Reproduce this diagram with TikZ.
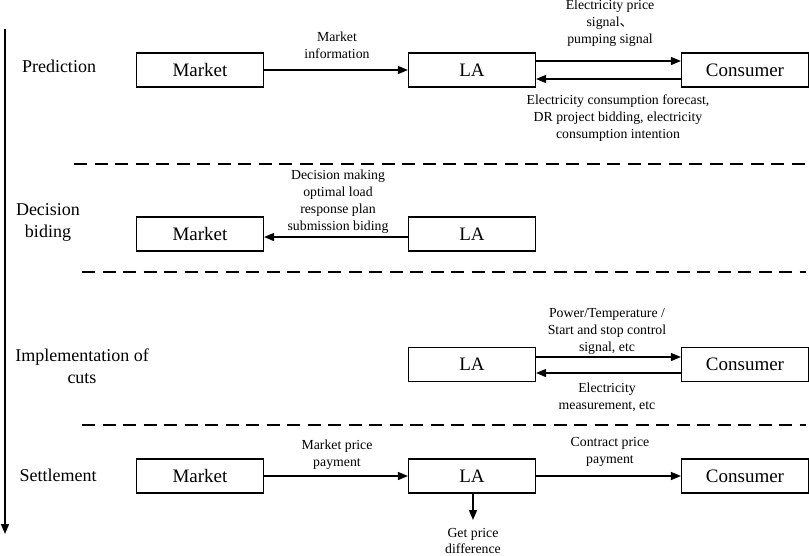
\documentclass[tikz,border=0pt]{standalone}
\usepackage{fontspec}
\setmainfont{Liberation Serif}
\newfontfamily\cjk{Noto Sans CJK SC}
\usetikzlibrary{arrows.meta}
\begin{document}
\begin{tikzpicture}[x=1pt,y=-1pt,
 box/.style={draw,line width=1.2pt,minimum width=127pt,minimum height=34pt,inner sep=0pt,font=\fontsize{19}{22}\selectfont},
 lab/.style={align=center,font=\fontsize{13.8}{17}\selectfont,inner sep=0pt},
 phase/.style={align=center,font=\fontsize{18}{22}\selectfont,inner sep=0pt},
 arr/.style={line width=1.5pt,-{Triangle[length=10pt,width=8pt]}},
 sep/.style={line width=1.3pt,dash pattern=on 13pt off 7.5pt}]
\useasboundingbox (0,0) rectangle (809,555);

% time axis
\coordinate (ts) at (5,29);
\coordinate (te) at (5,534);
\draw[arr] (ts) -- (te);

% separators
\coordinate (s1a) at (74,164); \coordinate (s1b) at (806,164);
\coordinate (s2a) at (82,272); \coordinate (s2b) at (806,272);
\coordinate (s3a) at (82,425); \coordinate (s3b) at (806,425);
\draw[sep] (s1a) -- (s1b);
\draw[sep] (s2a) -- (s2b);
\draw[sep] (s3a) -- (s3b);

% phase labels
\node[phase] (p1) at (59,66) {Prediction};
\node[phase] (p2) at (48,222) {Decision\\biding};
\node[phase] (p3) at (82,366) {Implementation of\\cuts};
\node[phase] (p4) at (58,475) {Settlement};

% Prediction row
\node[box] (m1) at (200,70) {Market};
\node[box] (l1) at (472,70) {LA};
\node[box] (c1) at (745,70) {Consumer};
\draw[arr] (m1) -- (l1);
\draw[arr] ([yshift=9pt]l1.east) -- ([yshift=9pt]c1.west);
\draw[arr] ([yshift=-9pt]c1.west) -- ([yshift=-9pt]l1.east);
\node[lab] (t1) at (337,45) {Market\\information};
\node[lab] (t2) at (610,23) {Electricity price\\signal{\cjk 、}\\pumping signal};
\node[lab] (t3) at (618,118) {Electricity consumption forecast,\\DR project bidding, electricity\\consumption intention};

% Decision row
\node[box] (m2) at (200,234) {Market};
\node[box] (l2) at (472,234) {LA};
\draw[arr] ([yshift=-3pt]l2.west) -- ([yshift=-3pt]m2.east);
\node[lab] (t4) at (338,202) {Decision making\\optimal load\\response plan\\submission biding};

% Implementation row
\node[box] (l3) at (472,364.5) {LA};
\node[box] (c3) at (745,364.5) {Consumer};
\draw[arr] ([yshift=7.5pt]l3.east) -- ([yshift=7.5pt]c3.west);
\draw[arr] ([yshift=-8.5pt]c3.west) -- ([yshift=-8.5pt]l3.east);
\node[lab] (t5) at (607,331) {Power/Temperature /\\Start and stop control\\signal, etc};
\node[lab] (t6) at (607,397) {Electricity\\measurement, etc};

% Settlement row
\node[box] (m4) at (200,476) {Market};
\node[box] (l4) at (472,476) {LA};
\node[box] (c4) at (745,476) {Consumer};
\draw[arr] (m4) -- (l4);
\draw[arr] (l4) -- (c4);
\coordinate (gp) at (473,520);
\draw[arr] (l4.south -| gp) -- (gp);
\node[lab] (t7) at (337,454.5) {Market price\\payment};
\node[lab] (t8) at (610,451.5) {Contract price\\payment};
\node[lab,font=\fontsize{13.8}{16}\selectfont] (t9) at (473,541) {Get price\\difference};
\end{tikzpicture}
\end{document}
